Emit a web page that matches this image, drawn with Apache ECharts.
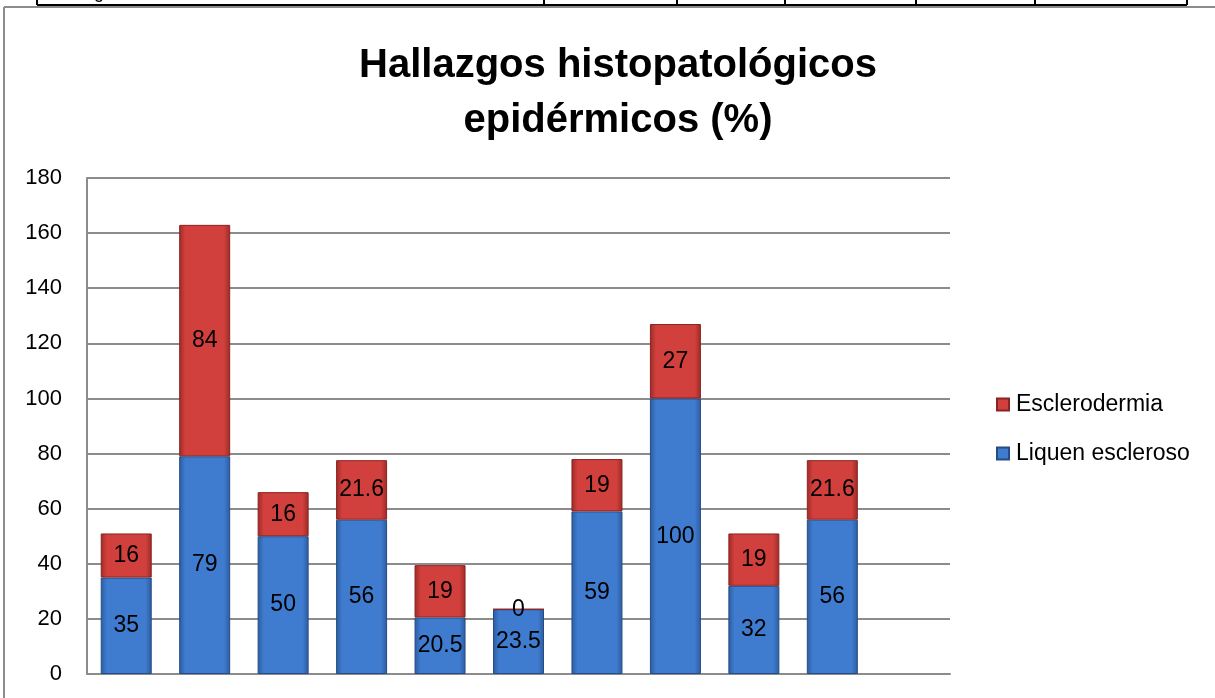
<!DOCTYPE html>
<html lang="es">
<head>
    <meta charset="UTF-8">
    <title>Hallazgos histopatológicos epidérmicos</title>
    <script src="https://cdn.jsdelivr.net/npm/echarts@6.0.0/dist/echarts.min.js"></script>
    <style>
        html, body { margin: 0; padding: 0; background: #fff; }
        #chart-container { width: 1215px; height: 698px; }
    </style>
</head>
<body>
<div id="chart-container"></div>
<script>
    // datos (la última categoría está vacía, como en el original)
    var categories = ["1", "2", "3", "4", "5", "6", "7", "8", "9", "10", ""];
    var liquen = [35, 79, 50, 56, 20.5, 23.5, 59, 100, 32, 56];
    var esclerodermia = [16, 84, 16, 21.6, 19, 0, 19, 27, 19, 21.6];
    var yTicks = [0, 20, 40, 60, 80, 100, 120, 140, 160, 180];

    var font = "'Liberation Sans', 'DejaVu Sans', sans-serif";

    function barGrad(edge, mid) {
        return new echarts.graphic.LinearGradient(0, 0, 1, 0, [
            { offset: 0, color: edge },
            { offset: 0.12, color: mid },
            { offset: 0.88, color: mid },
            { offset: 1, color: edge }
        ]);
    }

    var labelStyle = {
        show: true,
        position: "inside",
        fontFamily: font,
        fontSize: 23,
        color: "#000"
    };

    var option = {
        animation: false,
        title: {
            text: "Hallazgos histopatológicos\nepidérmicos (%)",
            left: 613,
            textAlign: "center",
            top: 33,
            textStyle: {
                fontFamily: font,
                fontWeight: "bold",
                fontSize: 40,
                lineHeight: 55,
                color: "#000"
            }
        },
        legend: {
            orient: "vertical",
            left: 991,
            top: 388,
            icon: "rect",
            itemWidth: 12,
            itemHeight: 12,
            itemGap: 26,
            data: ["Esclerodermia", "Liquen escleroso"],
            textStyle: { fontFamily: font, fontSize: 23, color: "#000", padding: [0, 0, 0, 2] }
        },
        grid: { left: 87, right: 265, top: 178, bottom: 24 },
        xAxis: {
            type: "category",
            data: categories,
            axisLine: { lineStyle: { color: "#8c8c8c", width: 2 } },
            axisTick: { show: false },
            axisLabel: { show: false }
        },
        yAxis: {
            type: "value",
            min: 0,
            max: 180,
            interval: 20,
            axisLine: { show: true, lineStyle: { color: "#8c8c8c", width: 2 } },
            axisTick: { show: false },
            splitLine: { lineStyle: { color: "#8c8c8c", width: 2 } },
            axisLabel: {
                margin: 25,
                fontFamily: font,
                fontSize: 22,
                color: "#000",
                formatter: function (v) { return yTicks.indexOf(v) >= 0 ? String(v) : ""; }
            }
        },
        series: [
            {
                name: "Liquen escleroso",
                type: "bar",
                stack: "total",
                barWidth: 51,
                data: liquen,
                itemStyle: {
                    color: barGrad("#2c5c9e", "#3f7bcf"),
                    borderColor: "#244d86",
                    borderWidth: 1
                },
                label: labelStyle
            },
            {
                name: "Esclerodermia",
                type: "bar",
                stack: "total",
                barWidth: 51,
                data: esclerodermia,
                itemStyle: {
                    color: barGrad("#9c2a27", "#d1403c"),
                    borderColor: "#8a2422",
                    borderWidth: 1
                },
                label: labelStyle
            }
        ],
        graphic: [
            // marco del gráfico
            { type: "line", shape: { x1: 4, y1: 7, x2: 1215, y2: 7 }, style: { stroke: "#8c8c8c", lineWidth: 2 } },
            { type: "line", shape: { x1: 4, y1: 7, x2: 4, y2: 698 }, style: { stroke: "#8c8c8c", lineWidth: 2 } },
            // tabla del documento
            { type: "line", shape: { x1: 37, y1: 5, x2: 1187, y2: 5 }, style: { stroke: "#000", lineWidth: 2 } },
            { type: "line", shape: { x1: 37, y1: 0, x2: 37, y2: 5 }, style: { stroke: "#000", lineWidth: 2 } },
            { type: "line", shape: { x1: 544, y1: 0, x2: 544, y2: 5 }, style: { stroke: "#000", lineWidth: 2 } },
            { type: "line", shape: { x1: 677, y1: 0, x2: 677, y2: 5 }, style: { stroke: "#000", lineWidth: 2 } },
            { type: "line", shape: { x1: 785, y1: 0, x2: 785, y2: 5 }, style: { stroke: "#000", lineWidth: 2 } },
            { type: "line", shape: { x1: 916, y1: 0, x2: 916, y2: 5 }, style: { stroke: "#000", lineWidth: 2 } },
            { type: "line", shape: { x1: 1035, y1: 0, x2: 1035, y2: 5 }, style: { stroke: "#000", lineWidth: 2 } },
            { type: "line", shape: { x1: 1187, y1: 0, x2: 1187, y2: 5 }, style: { stroke: "#000", lineWidth: 2 } },
            { type: "text", left: 94, top: -16, style: { text: "g", font: "18px " + font, fill: "#000" } }
        ]
    };

    var chart = echarts.init(document.getElementById("chart-container"));
    chart.setOption(option);
</script>
</body>
</html>
